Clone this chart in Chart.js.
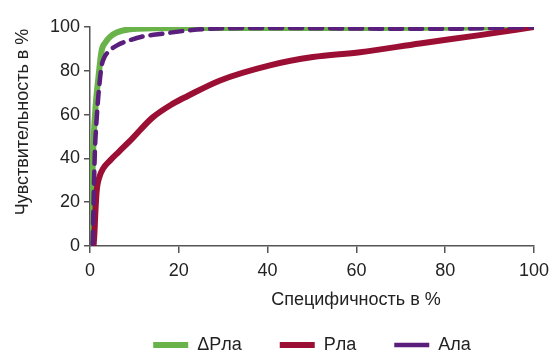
<!DOCTYPE html>
<html>
<head>
<meta charset="utf-8">
<script src="https://cdn.jsdelivr.net/npm/chart.js@4/dist/chart.umd.min.js"></script>
<style>
  html, body { margin: 0; padding: 0; background: #fff; }
  #wrap { width: 550px; height: 356px; }
</style>
</head>
<body>
<div id="wrap"><canvas id="roc"></canvas></div>
<script>
const FONT = "'Liberation Sans', Arial, sans-serif";

// ΔРла
const deltaX = [0, 0.4, 0.75, 1.3, 1.9, 2.6, 3.5, 4.5, 6, 9, 14, 20, 40, 60, 80, 100];
const deltaY = [0, 23, 46, 65, 77, 89, 93, 95.5, 97.5, 99, 99.4, 99.6, 99.6, 99.6, 99.7, 100];
// Рла
const rlaX = [0.8, 1.0, 1.2, 1.5, 2.2, 3.0, 4.5, 6.5, 9.5, 14, 18.7, 22, 29.3, 40.5, 50.2, 60.8, 74.3, 87.8, 100];
const rlaY = [0, 6, 15, 25, 32, 35.5, 39, 43, 49, 58.5, 65, 68.5, 75.6, 82.5, 86.3, 88.5, 92.5, 96.3, 100];
// Ала
const alaX = [0.6, 0.75, 1.1, 1.5, 1.9, 2.6, 3.2, 4.1, 6, 9, 12, 16.5, 23, 30, 40, 60, 80, 100];
const alaY = [1, 15.6, 43, 58, 69, 82, 86, 88.6, 91.5, 94, 95.7, 97, 98.6, 99.4, 99.6, 99.3, 99.2, 100];

const seriesNames = ['ΔРла', 'Рла', 'Ала'];
const seriesColors = ['#69b34a', '#9c0f34', '#5a1e7d'];
const xTicks = [0, 20, 40, 60, 80, 100];
const yTicks = [0, 20, 40, 60, 80, 100];
const xTitle = 'Специфичность в %';
const yTitle = 'Чувствительность в %';

function toPoints(xs, ys) {
  return xs.map((x, i) => ({ x: x, y: ys[i] }));
}

// axis titles sit off-centre in the original, so they are drawn by hand
const axisTitles = {
  id: 'axisTitles',
  afterDraw(chart) {
    const ctx = chart.ctx;
    ctx.save();
    ctx.fillStyle = '#222';
    ctx.font = '18px ' + FONT;
    ctx.textAlign = 'center';
    ctx.textBaseline = 'middle';
    ctx.fillText(xTitle, 356, 300);
    ctx.translate(23, 122);
    ctx.rotate(-Math.PI / 2);
    ctx.fillText(yTitle, 0, 0);
    ctx.restore();
  }
};

const ctx = document.getElementById('roc').getContext('2d');
new Chart(ctx, {
  type: 'line',
  data: {
    datasets: [
      {
        label: seriesNames[0],
        data: toPoints(deltaX, deltaY),
        borderColor: seriesColors[0],
        backgroundColor: seriesColors[0],
        borderWidth: 6,
        borderCapStyle: 'round',
        order: 2
      },
      {
        label: seriesNames[1],
        data: toPoints(rlaX, rlaY),
        borderColor: seriesColors[1],
        backgroundColor: seriesColors[1],
        borderWidth: 6,
        borderCapStyle: 'round',
        order: 1
      },
      {
        label: seriesNames[2],
        data: toPoints(alaX, alaY),
        borderColor: seriesColors[2],
        backgroundColor: seriesColors[2],
        borderWidth: 4.5,
        borderDash: [12, 8],
        borderCapStyle: 'round',
        order: 0
      }
    ]
  },
  options: {
    responsive: true,
    maintainAspectRatio: false,
    animation: false,
    cubicInterpolationMode: 'monotone',
    layout: { padding: { left: 0, right: 16, top: 27, bottom: 0 } },
    elements: { point: { radius: 0 } },
    plugins: {
      tooltip: { enabled: false },
      legend: {
        position: 'bottom',
        fullSize: false,
        maxHeight: 58,
        labels: {
          usePointStyle: true,
          pointStyle: 'line',
          pointStyleWidth: 35,
          padding: 38,
          color: '#222',
          font: { family: FONT, size: 18 },
          sort: (a, b) => a.datasetIndex - b.datasetIndex
        }
      }
    },
    scales: {
      x: {
        type: 'linear',
        min: 0,
        max: 100,
        afterFit(scale) {
          scale.height = 52;
          scale.paddingRight = 0;
          scale.paddingLeft = 0;
        },
        afterBuildTicks(scale) { scale.ticks = xTicks.map(v => ({ value: v })); },
        border: { color: '#555', width: 1.5 },
        grid: { display: true, drawOnChartArea: false, tickLength: 7, color: '#555', lineWidth: 1.5 },
        ticks: { color: '#222', padding: 7, font: { family: FONT, size: 18 } }
      },
      y: {
        type: 'linear',
        min: 0,
        max: 100,
        afterFit(scale) { scale.width = 90; },
        afterBuildTicks(scale) { scale.ticks = yTicks.map(v => ({ value: v })); },
        border: { color: '#555', width: 1.5 },
        grid: { display: true, drawOnChartArea: false, tickLength: 6, color: '#555', lineWidth: 1.5 },
        ticks: { color: '#222', padding: 4, font: { family: FONT, size: 18 } }
      }
    }
  },
  plugins: [axisTitles]
});
</script>
</body>
</html>
